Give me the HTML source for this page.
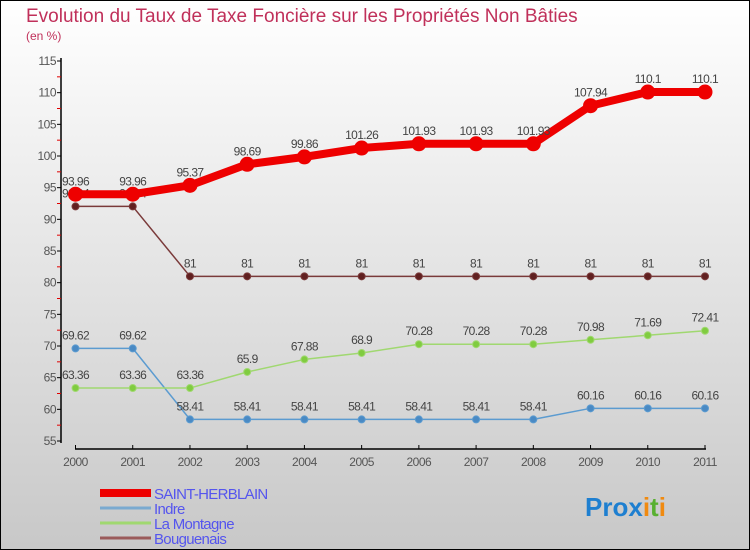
<!DOCTYPE html>
<html><head><meta charset="utf-8"><style>
body{margin:0;}
#wrap{width:750px;height:550px;position:relative;overflow:hidden;font-family:"Liberation Sans",sans-serif;}
svg text{font-family:"Liberation Sans",sans-serif;}
</style></head><body>
<div id="wrap">
<svg id="chart" width="750" height="550">
<defs><linearGradient id="bg" x1="0" y1="0" x2="0" y2="1"><stop offset="0" stop-color="#ffffff"/><stop offset="1" stop-color="#c8c8c8"/></linearGradient></defs>
<rect x="0.5" y="0.5" width="749" height="549" fill="url(#bg)" stroke="#000"/>
<text x="26" y="22" font-size="19" fill="#c0305a">Evolution du Taux de Taxe Foncière sur les Propriétés Non Bâties</text>
<text x="26" y="40" font-size="12" fill="#c0305a">(en %)</text>
<g id="axes"></g>
<g id="series"></g>
<g id="legend"></g>
<text x="585" y="516" font-size="26" font-weight="bold"><tspan fill="#1e7fd0">Pro</tspan><tspan fill="#1e7fd0">x</tspan><tspan fill="#f08a10">i</tspan><tspan fill="#58b030">t</tspan><tspan fill="#f08a10">i</tspan></text>
</svg>
</div>
<script>
const years=["2000","2001","2002","2003","2004","2005","2006","2007","2008","2009","2010","2011"];
const yTicks=[55,60,65,70,75,80,85,90,95,100,105,110,115];
const saintHerblain=[93.96,93.96,95.37,98.69,99.86,101.26,101.93,101.93,101.93,107.94,110.1,110.1];
const indre=[69.62,69.62,58.41,58.41,58.41,58.41,58.41,58.41,58.41,60.16,60.16,60.16];
const laMontagne=[63.36,63.36,63.36,65.9,67.88,68.9,70.28,70.28,70.28,70.98,71.69,72.41];
const bouguenais=[92.04,92.04,81,81,81,81,81,81,81,81,81,81];
const NS="http://www.w3.org/2000/svg";
const x=i=>75.5+i*(705-75.5)/11;
const y=v=>61+(115-v)*(441-61)/60;
function mk(t,a,p){const e=document.createElementNS(NS,t);for(const k in a)e.setAttribute(k,a[k]);p.appendChild(e);return e;}
const ax=document.getElementById('axes');
let l=mk('line',{x1:61,y1:58,x2:61,y2:443,stroke:'#000','stroke-width':1.5},ax);


l=mk('line',{x1:75,y1:449,x2:706,y2:449,stroke:'#000','stroke-width':1.5},ax);


yTicks.forEach((v,i)=>{
 mk('line',{x1:57,y1:y(v),x2:61,y2:y(v),stroke:'#000'},ax);
 if(i<yTicks.length-1) mk('line',{x1:57,y1:y(v+2.5),x2:61,y2:y(v+2.5),stroke:'#e00000'},ax);
 const t=mk('text',{x:56,y:y(v)+4,'font-size':12,fill:'#555','text-anchor':'end','letter-spacing':'-0.5'},ax);
 t.textContent=v;
 
 
});
years.forEach((yr,i)=>{
 mk('line',{x1:x(i),y1:445,x2:x(i),y2:449,stroke:'#000'},ax);
 const t=mk('text',{x:x(i),y:466,'font-size':12,fill:'#555','text-anchor':'middle','letter-spacing':'-0.5'},ax);
 t.textContent=yr;
 
 
});
const sg=document.getElementById('series');
function draw(vals,color,w,r,name,labelColor,dotStroke){
 const g=mk('g',{},sg);
 
 
 const p=mk('polyline',{points:vals.map((v,i)=>x(i)+','+y(v)).join(' '),fill:'none',stroke:color,'stroke-width':w,'stroke-linejoin':'round'},g);
 
 
 vals.forEach((v,i)=>{
  const c=mk('circle',{cx:x(i),cy:y(v),r:r,fill:dotStroke?dotStroke:color,stroke:color,'stroke-width':1},g);
  
  
  const t=mk('text',{x:x(i),y:y(v)-9,'font-size':12,fill:'#444','text-anchor':'middle','letter-spacing':'-0.6'},g);
  t.textContent=v;
  
  
 });
}
draw(indre,'#5b9bd0',1.5,3.5,'indre',null,'#4a8ac4');
draw(laMontagne,'#a0d870',1.5,3.5,'la-montagne',null,'#80cc40');
draw(bouguenais,'#7a3a3a',1.5,3.5,'bouguenais',null,'#602020');
draw(saintHerblain,'#ee0000',8,7,'saint-herblain',null,'#ee0000');
const lg=document.getElementById('legend');
const items=[["SAINT-HERBLAIN","#ee0000",8],["Indre","#7aaad0",3],["La Montagne","#a0d870",3],["Bouguenais","#9a5a5a",3]];
items.forEach((it,i)=>{
 const yy=493+i*15;
 const g=mk('g',{},lg);
 
 
 mk('line',{x1:100,y1:yy,x2:151,y2:yy,stroke:it[1],'stroke-width':it[2]},g);
 const t=mk('text',{x:154,y:yy+6,'font-size':15,fill:'#5555ee','letter-spacing':'-0.7'},g);
 t.textContent=it[0];
});
</script>
</body></html>
